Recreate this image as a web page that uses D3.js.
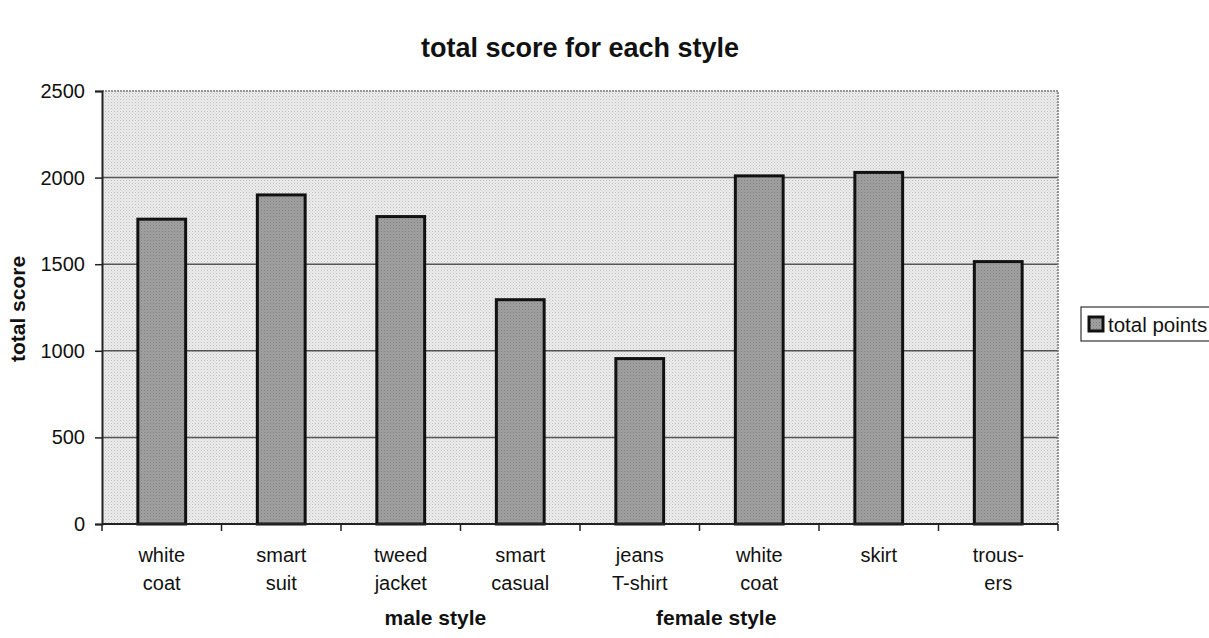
<!DOCTYPE html>
<html>
<head>
<meta charset="utf-8">
<script src="https://cdn.jsdelivr.net/npm/d3@7"></script>
<style>
  html, body { margin: 0; padding: 0; background: #fff; }
  svg { display: block; font-family: "Liberation Sans", Arial, sans-serif; }
</style>
</head>
<body>
<svg id="chart" width="1209" height="638"></svg>
<script>
// Categories (two-line labels) and their total scores
const categories = ["white\ncoat", "smart\nsuit", "tweed\njacket", "smart\ncasual",
                    "jeans\nT-shirt", "white\ncoat ", "skirt", "trous-\ners"];
const totalPoints = [1760, 1900, 1775, 1295, 955, 2010, 2030, 1515];
const yTicks = [0, 500, 1000, 1500, 2000, 2500];
const groupLabels = ["male style", "female style"];
const groupPos = [2.79, 5.14]; // position along the category axis, in bands

const svg = d3.select("#chart");
const margin = { left: 102, right: 1058, top: 91, bottom: 524 };

const defs = svg.append("defs");
// grainy plot-area background
const bg = defs.append("pattern").attr("id", "bgPat")
  .attr("width", 3).attr("height", 3).attr("patternUnits", "userSpaceOnUse");
bg.append("rect").attr("width", 3).attr("height", 3).attr("fill", "#ededed");
bg.append("rect").attr("x", 0).attr("y", 0).attr("width", 1).attr("height", 1).attr("fill", "#bdbdbd");
bg.append("rect").attr("x", 1.5).attr("y", 1.5).attr("width", 1).attr("height", 1).attr("fill", "#cbcbcb");
// grainy bar fill
const bp = defs.append("pattern").attr("id", "barPat")
  .attr("width", 3).attr("height", 3).attr("patternUnits", "userSpaceOnUse");
bp.append("rect").attr("width", 3).attr("height", 3).attr("fill", "#a0a0a0");
bp.append("rect").attr("x", 0).attr("y", 0).attr("width", 1).attr("height", 1).attr("fill", "#808080");
bp.append("rect").attr("x", 1.5).attr("y", 1.5).attr("width", 1).attr("height", 1).attr("fill", "#909090");

const x = d3.scaleBand().domain(categories)
  .range([margin.left, margin.right]).paddingInner(0).paddingOuter(0);
const y = d3.scaleLinear().domain([0, 2500]).range([margin.bottom, margin.top]);

// plot area
svg.append("rect")
  .attr("x", margin.left).attr("y", margin.top)
  .attr("width", margin.right - margin.left).attr("height", margin.bottom - margin.top)
  .attr("fill", "url(#bgPat)");

// gridlines
svg.append("g").selectAll("line")
  .data(yTicks.filter(d => d > 0 && d < 2500))
  .join("line")
  .attr("x1", margin.left).attr("x2", margin.right)
  .attr("y1", d => y(d)).attr("y2", d => y(d))
  .attr("stroke", "#555").attr("stroke-width", 1.5);

// dotted top and right border of plot area
svg.append("path")
  .attr("d", `M${margin.left},${y(2500)}H${margin.right}V${margin.bottom}`)
  .attr("fill", "none").attr("stroke", "#777").attr("stroke-width", 1.5)
  .attr("stroke-dasharray", "2,1");

// bars
const bw = x.bandwidth() * 0.4;
svg.append("g").selectAll("rect")
  .data(categories.map((c, i) => ({ c, v: totalPoints[i] })))
  .join("rect")
  .attr("x", d => x(d.c) + (x.bandwidth() - bw) / 2)
  .attr("y", d => y(d.v))
  .attr("width", bw)
  .attr("height", d => y(0) - y(d.v))
  .attr("fill", "url(#barPat)")
  .attr("stroke", "#111").attr("stroke-width", 3);

// y axis
const yAxis = svg.append("g").attr("transform", `translate(${margin.left},0)`)
  .call(d3.axisLeft(y).tickValues(yTicks).tickFormat(d3.format("d"))
    .tickSize(7).tickPadding(10));
yAxis.select(".domain").attr("stroke", "#222").attr("stroke-width", 2);
yAxis.selectAll(".tick line").attr("stroke", "#222").attr("stroke-width", 1.5);
yAxis.selectAll(".tick text").attr("font-size", 20).attr("fill", "#111")
  .attr("font-family", "Liberation Sans, Arial, sans-serif");

// x axis with ticks at category boundaries
const xAxis = svg.append("g").attr("transform", `translate(0,${margin.bottom})`);
xAxis.append("line").attr("x1", margin.left).attr("x2", margin.right)
  .attr("stroke", "#222").attr("stroke-width", 2);
const bounds = categories.map(c => x(c)).concat([margin.right]);
xAxis.selectAll("line.tk").data(bounds).join("line").attr("class", "tk")
  .attr("x1", d => d).attr("x2", d => d).attr("y1", 0).attr("y2", 7)
  .attr("stroke", "#222").attr("stroke-width", 1.5);
xAxis.selectAll("text.cat").data(categories).join("text").attr("class", "cat")
  .attr("text-anchor", "middle").attr("font-size", 20).attr("fill", "#111")
  .each(function (d) {
    const lines = d.trim().split("\n");
    const t = d3.select(this);
    lines.forEach((ln, i) => {
      t.append("tspan").attr("x", x(d) + x.bandwidth() / 2)
        .attr("y", 38 + i * 28).text(ln);
    });
  });

// group labels under the categories
svg.selectAll("text.grp").data(groupLabels).join("text").attr("class", "grp")
  .attr("x", (d, i) => margin.left + groupPos[i] * x.bandwidth())
  .attr("y", 625).attr("text-anchor", "middle")
  .attr("font-size", 21).attr("font-weight", "bold").attr("fill", "#111")
  .text(d => d);

// title
svg.append("text").attr("x", (margin.left + margin.right) / 2).attr("y", 57)
  .attr("text-anchor", "middle").attr("font-size", 27).attr("font-weight", "bold")
  .attr("fill", "#111").text("total score for each style");

// y axis title
svg.append("text").attr("transform", "translate(25,309) rotate(-90)")
  .attr("text-anchor", "middle").attr("font-size", 21).attr("font-weight", "bold")
  .attr("fill", "#111").text("total score");

// legend
const lg = svg.append("g").attr("transform", "translate(1081,307)");
lg.append("rect").attr("width", 140).attr("height", 34)
  .attr("fill", "#fff").attr("stroke", "#333").attr("stroke-width", 1.2);
lg.append("rect").attr("x", 8).attr("y", 10).attr("width", 14).attr("height", 14)
  .attr("fill", "url(#barPat)").attr("stroke", "#111").attr("stroke-width", 3);
lg.append("text").attr("x", 27).attr("y", 25).attr("font-size", 20.5)
  .attr("fill", "#111").text("total points");
</script>
</body>
</html>
